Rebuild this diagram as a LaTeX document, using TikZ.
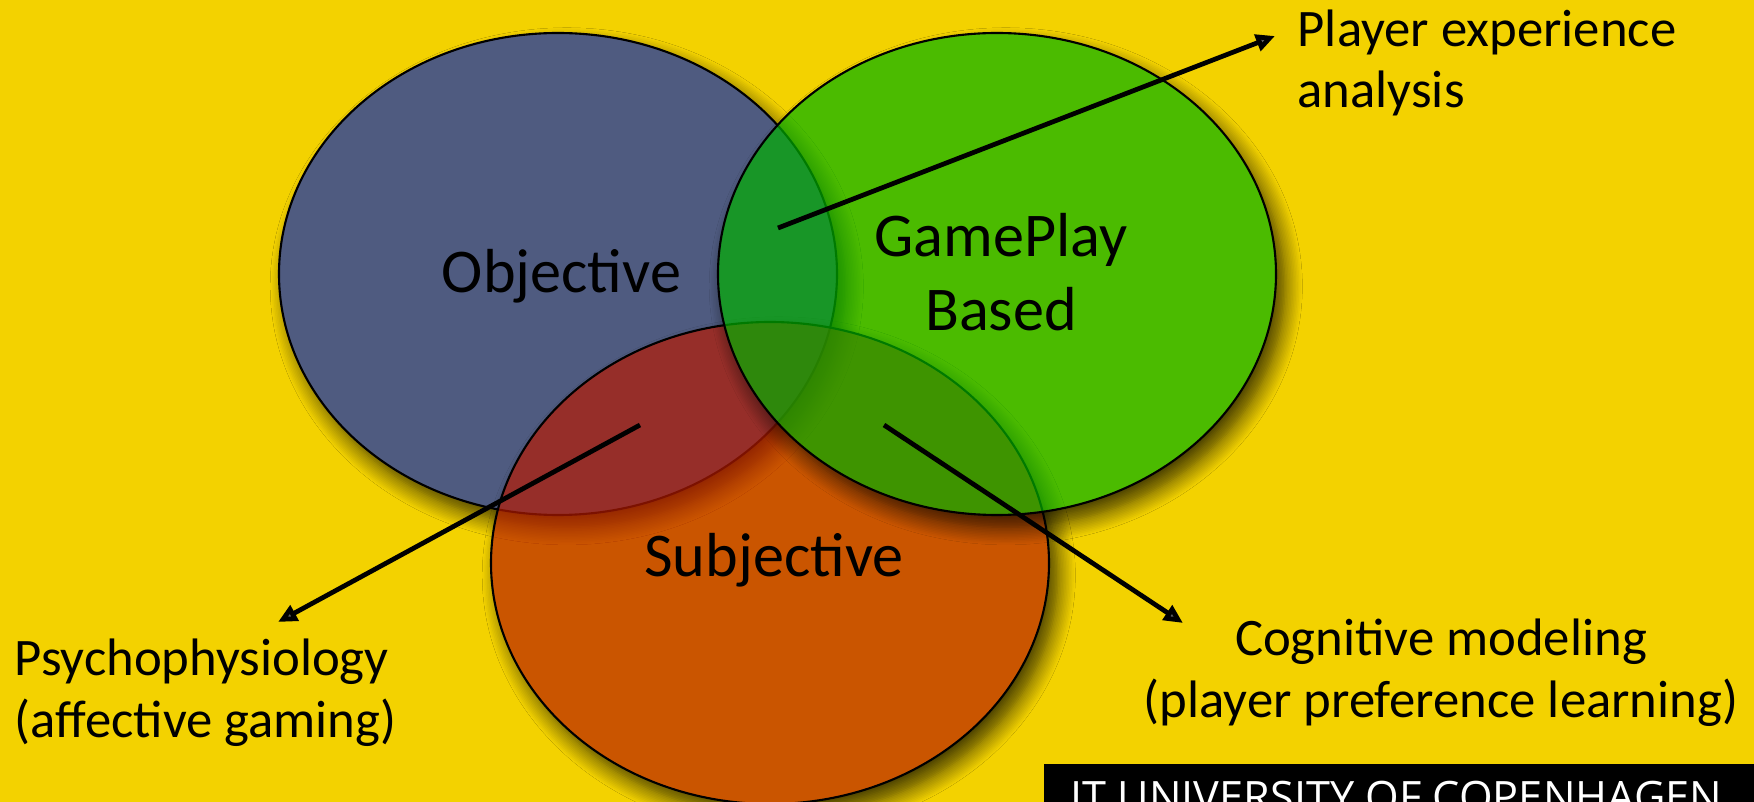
\documentclass[tikz,border=0pt]{standalone}
\usepackage{fontspec}
\setmainfont{Carlito}
\newfontfamily\itufont{Open Sans}
\usetikzlibrary{arrows.meta, shadows.blur}

\definecolor{bgyellow}{RGB}{243,210,0}
\definecolor{objblue}{RGB}{79,91,128}
\definecolor{subjred}{RGB}{184,26,0}
\definecolor{gamegreen}{RGB}{0,177,0}

\tikzset{
	venn/.style = {draw = black, line width = 0.6pt},
	vennshadow/.style = {blur shadow = {shadow xshift = 2.5pt, shadow yshift = -3.5pt, shadow blur radius = 5pt, shadow blur steps = 12, shadow opacity = 75}},
	bigtext/.style = {font = \fontsize{17.7}{21}\selectfont, inner sep = 0pt},
	smalltext/.style = {font = \fontsize{15}{17.6}\selectfont, inner sep = 0pt},
	pointer/.style = {line width = 1.35pt, -{Triangle[length = 5.4pt, width = 4.8pt]}}
}

\begin{document}
\begin{tikzpicture}
		\useasboundingbox (0,0) rectangle (17.54,8.02);
		\clip (0,0) rectangle (17.54,8.02);
		\fill[bgyellow] (0,0) rectangle (17.54,8.02);
		
		% objective
		\path[vennshadow] (5.58,5.28) ellipse [x radius = 2.79, y radius = 2.41];
		\filldraw[venn, fill = objblue] (5.58,5.28) ellipse [x radius = 2.79, y radius = 2.41];
		
		% subjective, shadow only outside the ellipse
		\begin{scope}[even odd rule]
			\clip (-1,-1) rectangle (19,9) (7.70,2.39) ellipse [x radius = 2.79, y radius = 2.41];
			\path[vennshadow] (7.70,2.39) ellipse [x radius = 2.79, y radius = 2.41];
		\end{scope}
		\filldraw[venn, fill = subjred, fill opacity = 0.68] (7.70,2.39) ellipse [x radius = 2.79, y radius = 2.41];
		
		% gameplay based
		\begin{scope}[even odd rule]
			\clip (-1,-1) rectangle (19,9) (9.97,5.28) ellipse [x radius = 2.79, y radius = 2.41];
			\path[vennshadow] (9.97,5.28) ellipse [x radius = 2.79, y radius = 2.41];
		\end{scope}
		\filldraw[venn, fill = gamegreen, fill opacity = 0.69] (9.97,5.28) ellipse [x radius = 2.79, y radius = 2.41];
		
		\node[bigtext, anchor = base] (obj) at (5.615,5.09) {Objective};
		\node[bigtext, align = center] (game) at (10.01,5.30) {GamePlay\\Based};
		\node[bigtext, anchor = base] (subj) at (7.74,2.25) {Subjective};
		
		\node[smalltext, align = left, anchor = west] (pxa) at (12.97,7.39) {Player experience\\analysis};
		\node[smalltext, align = left, anchor = west] (psy) at (0.14,1.095) {Psychophysiology\\(affective gaming)};
		\node[smalltext, align = center] (cog) at (14.41,1.295) {Cognitive modeling\\(player preference learning)};
		
		\coordinate (pxa-tail) at (7.78,5.74);
		\coordinate (pxa-tip) at (12.75,7.66);
		\coordinate (psy-tail) at (6.40,3.77);
		\coordinate (psy-tip) at (2.78,1.80);
		\coordinate (cog-tail) at (8.84,3.77);
		\coordinate (cog-tip) at (11.83,1.79);
		\draw[pointer] (pxa-tail) -- (pxa-tip);
		\draw[pointer] (psy-tail) -- (psy-tip);
		\draw[pointer] (cog-tail) -- (cog-tip);
		
		\fill[black] (10.44,-0.1) rectangle (17.64,0.38);
		\node[font = \itufont\fontsize{12.3}{14}\selectfont, text = white, inner sep = 0pt, anchor = base west] (itu) at (10.70,-0.11) {IT UNIVERSITY OF COPENHAGEN};
\end{tikzpicture}
\end{document}
